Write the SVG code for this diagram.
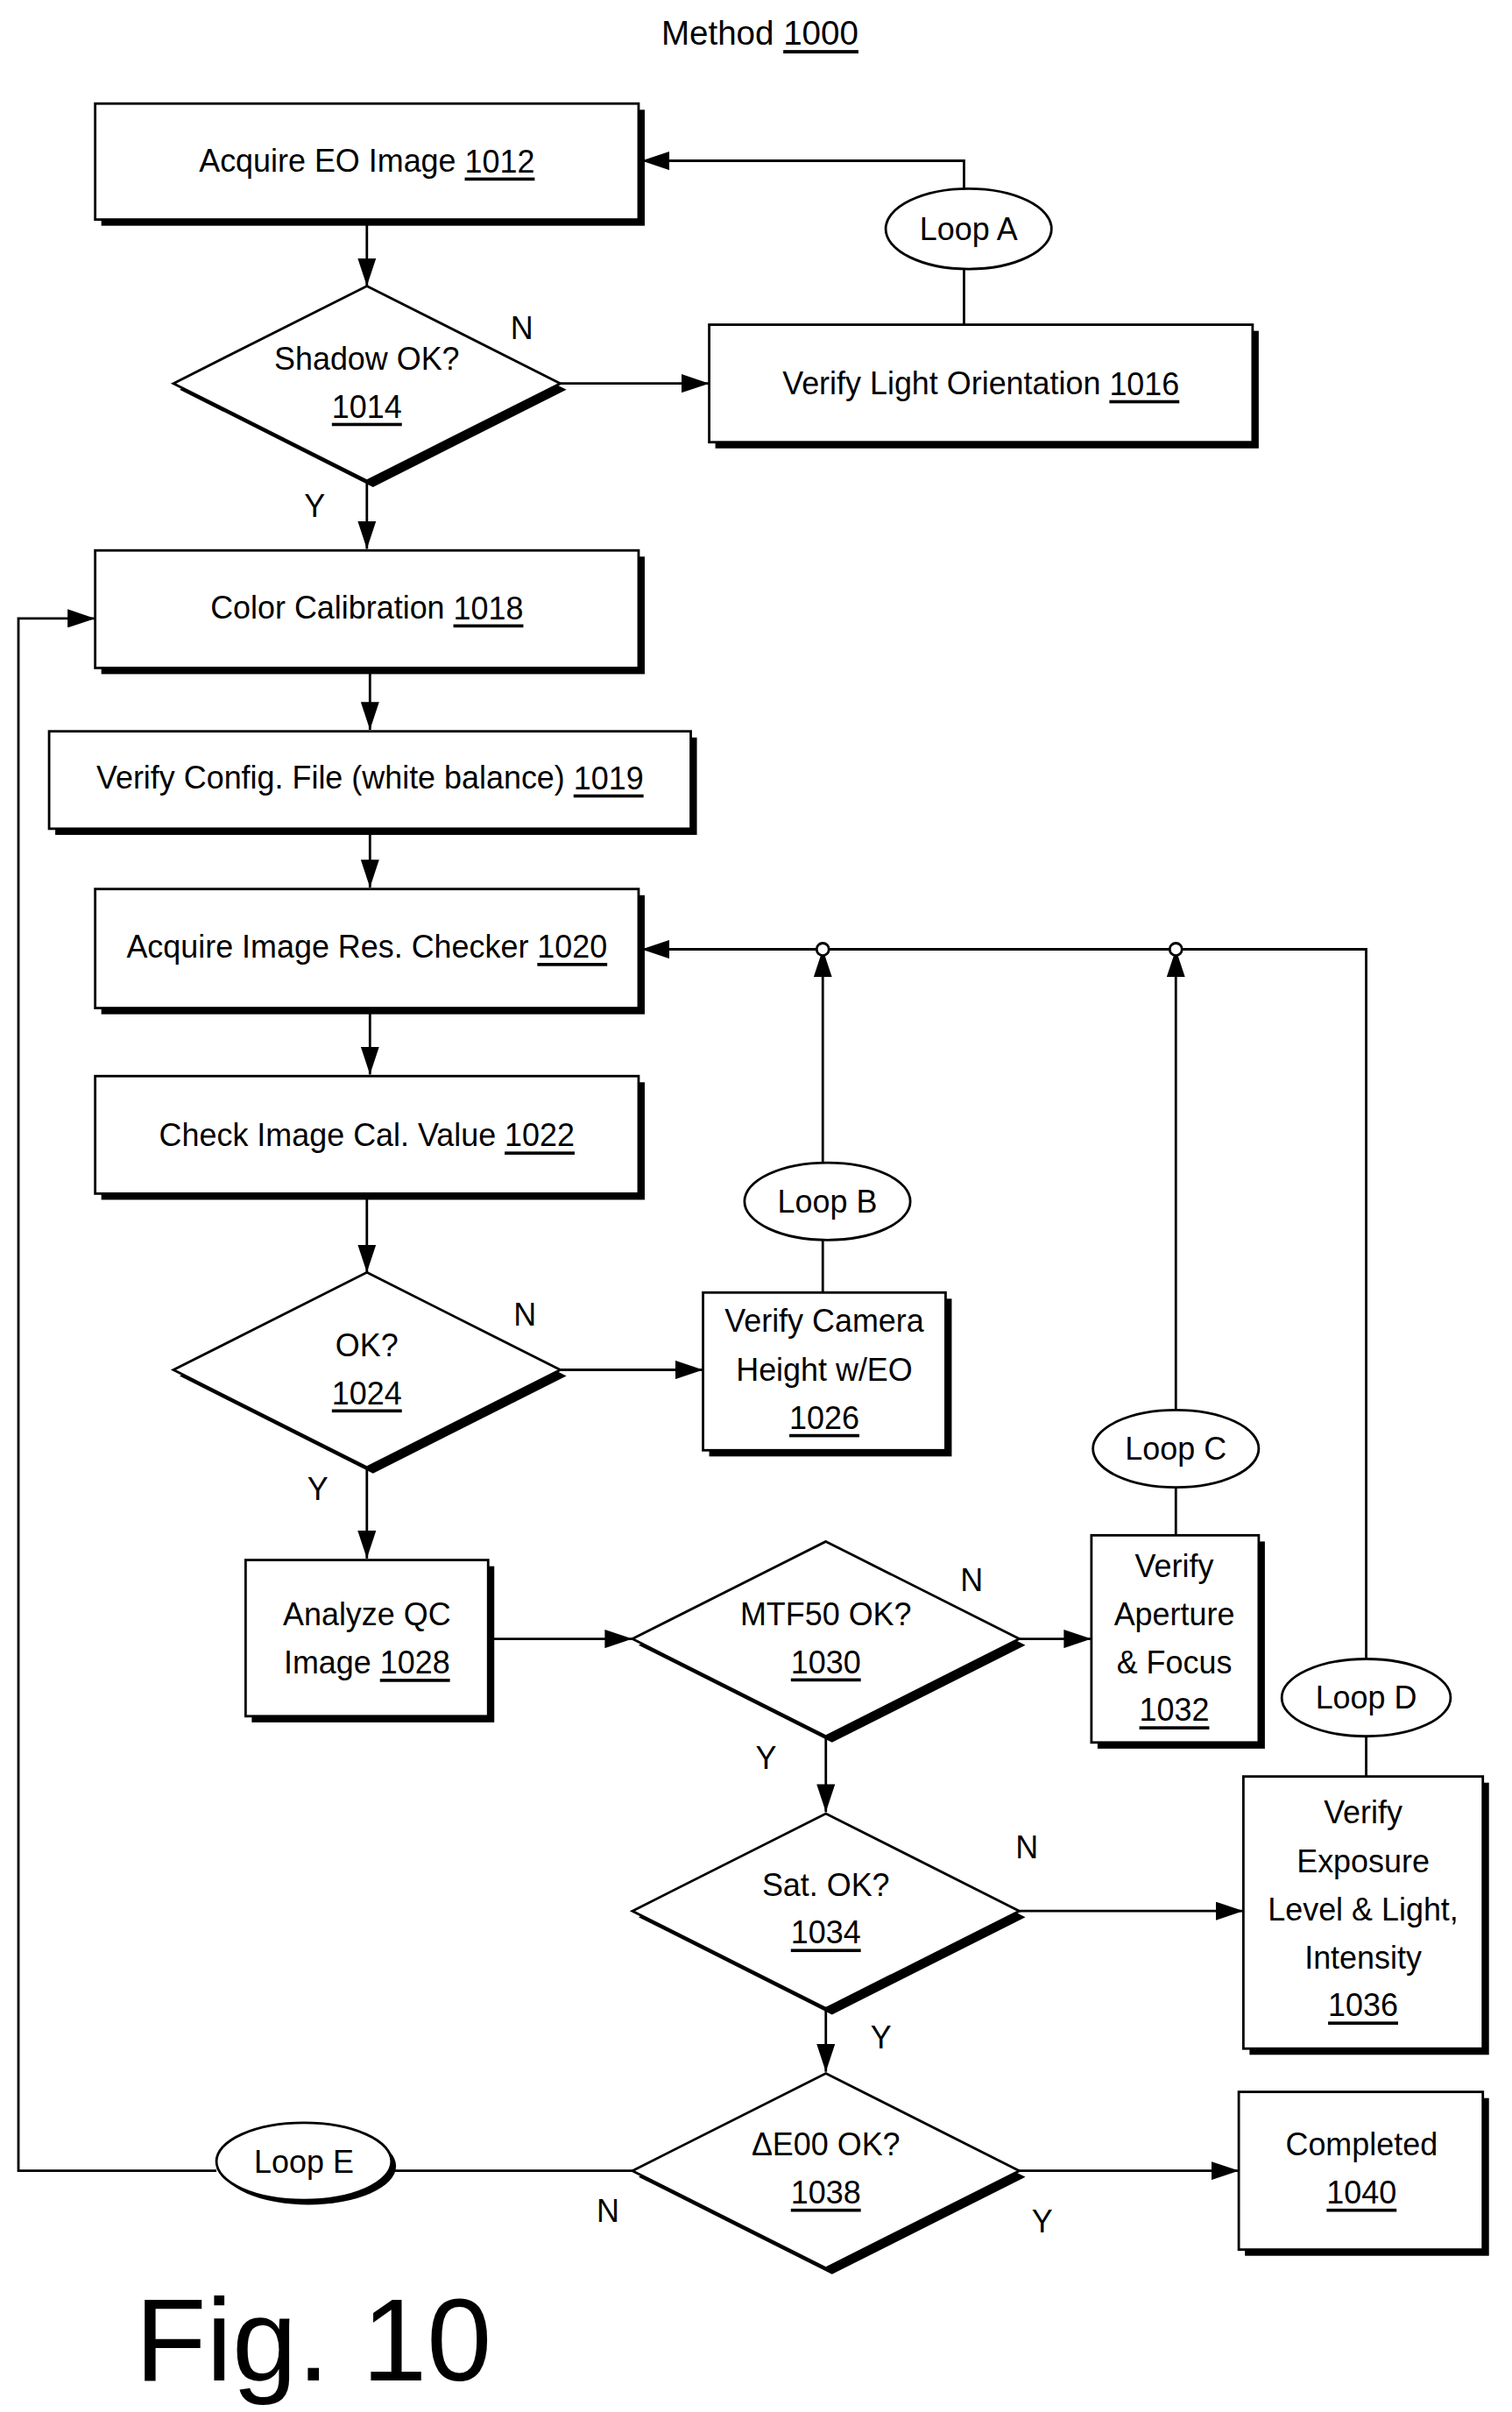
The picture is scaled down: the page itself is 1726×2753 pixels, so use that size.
<svg xmlns="http://www.w3.org/2000/svg" width="1726" height="2753" viewBox="0 0 1726 2753">
<style>
text{font-family:"Liberation Sans Narrow","Liberation Sans",Arial,sans-serif;font-size:20.5px;fill:#000;text-anchor:middle;dominant-baseline:central}
.u{text-decoration:underline}
.b{fill:#fff;stroke:#000;stroke-width:1.6}
.s{fill:#000}
.c{fill:none;stroke:#000;stroke-width:1.6}
</style>
<defs>
<marker id="a" viewBox="0 0 18 12" refX="18" refY="6" markerWidth="18" markerHeight="12" markerUnits="userSpaceOnUse" orient="auto"><path d="M0,0L18,6L0,12z" fill="#000"/></marker>
</defs>
<rect width="1726" height="2753" fill="#fff"/>
<g transform="scale(1.7523,1.7647)">
<text x="495" y="21" style="font-size:22px">Method <tspan class="u">1000</tspan></text>
<g id="connectors">
<path class="c" d="M239,142V185" marker-end="url(#a)"/>
<path class="c" d="M365,248H462" marker-end="url(#a)"/>
<path class="c" d="M628,210V174M628,122V104H418" marker-end="url(#a)"/>
<path class="c" d="M239,311V355" marker-end="url(#a)"/>
<path class="c" d="M241,432V472" marker-end="url(#a)"/>
<path class="c" d="M241,536V574" marker-end="url(#a)"/>
<path class="c" d="M241,652V695" marker-end="url(#a)"/>
<path class="c" d="M239,772V823" marker-end="url(#a)"/>
<path class="c" d="M365,886H458" marker-end="url(#a)"/>
<path class="c" d="M536,836V802M536,752V614" marker-end="url(#a)"/>
<path class="c" d="M766,993V962M766,912V614" marker-end="url(#a)"/>
<path class="c" d="M890,1073V614H418" marker-end="url(#a)"/>
<circle cx="536" cy="614" r="4" fill="#fff" stroke="#000" stroke-width="1.6"/>
<circle cx="766" cy="614" r="4" fill="#fff" stroke="#000" stroke-width="1.6"/>
<path class="c" d="M239,949V1008" marker-end="url(#a)"/>
<path class="c" d="M318,1060H412" marker-end="url(#a)"/>
<path class="c" d="M664,1060H711" marker-end="url(#a)"/>
<path class="c" d="M538,1123V1172" marker-end="url(#a)"/>
<path class="c" d="M664,1236H810" marker-end="url(#a)"/>
<path class="c" d="M890,1123V1149"/>
<path class="c" d="M538,1299V1340" marker-end="url(#a)"/>
<path class="c" d="M664,1404H807" marker-end="url(#a)"/>
<path class="c" d="M412,1404H255M141,1404H12V400H62" marker-end="url(#a)"/>
<text x="340" y="212">N</text><text x="205" y="327">Y</text>
<text x="342" y="850">N</text><text x="207" y="963">Y</text>
<text x="633" y="1022">N</text><text x="499" y="1137">Y</text>
<text x="669" y="1195">N</text><text x="574" y="1318">Y</text>
<text x="396" y="1430">N</text><text x="679" y="1437">Y</text>
</g>
<g id="n1012"><rect class="s" x="66" y="71" width="354" height="75"/><rect class="b" x="62" y="67" width="354" height="75"/><text x="239" y="104">Acquire EO Image <tspan class="u">1012</tspan></text></g>
<g id="n1014"><polygon class="s" points="243,189 369,252 243,315 117,252"/><polygon class="b" points="239,185 365,248 239,311 113,248"/><text x="239" y="232">Shadow OK?</text><text x="239" y="263" class="u">1014</text></g>
<g id="n1016"><rect class="s" x="466" y="214" width="354" height="76"/><rect class="b" x="462" y="210" width="354" height="76"/><text x="639" y="248">Verify Light Orientation <tspan class="u">1016</tspan></text></g>
<g id="loopA"><ellipse class="b" cx="631" cy="148" rx="54" ry="26"/><text x="631" y="148">Loop A</text></g>
<g id="n1018"><rect class="s" x="66" y="360" width="354" height="76"/><rect class="b" x="62" y="356" width="354" height="76"/><text x="239" y="393">Color Calibration <tspan class="u">1018</tspan></text></g>
<g id="n1019"><rect class="s" x="36" y="477" width="418" height="63"/><rect class="b" x="32" y="473" width="418" height="63"/><text x="241" y="503">Verify Config. File (white balance) <tspan class="u">1019</tspan></text></g>
<g id="n1020"><rect class="s" x="66" y="579" width="354" height="77"/><rect class="b" x="62" y="575" width="354" height="77"/><text x="239" y="612">Acquire Image Res. Checker <tspan class="u">1020</tspan></text></g>
<g id="n1022"><rect class="s" x="66" y="700" width="354" height="76"/><rect class="b" x="62" y="696" width="354" height="76"/><text x="239" y="734">Check Image Cal. Value <tspan class="u">1022</tspan></text></g>
<g id="n1024"><polygon class="s" points="243,827 369,890 243,953 117,890"/><polygon class="b" points="239,823 365,886 239,949 113,886"/><text x="239" y="870">OK?</text><text x="239" y="901" class="u">1024</text></g>
<g id="n1026"><rect class="s" x="462" y="840" width="158" height="102"/><rect class="b" x="458" y="836" width="158" height="102"/><text x="537" y="854">Verify Camera</text><text x="537" y="886">Height w/EO</text><text x="537" y="917" class="u">1026</text></g>
<g id="loopB"><ellipse class="b" cx="539" cy="777" rx="54" ry="25"/><text x="539" y="777">Loop B</text></g>
<g id="loopC"><ellipse class="b" cx="766" cy="937" rx="54" ry="25"/><text x="766" y="937">Loop C</text></g>
<g id="n1028"><rect class="s" x="164" y="1013" width="158" height="101"/><rect class="b" x="160" y="1009" width="158" height="101"/><text x="239" y="1044">Analyze QC</text><text x="239" y="1075">Image <tspan class="u">1028</tspan></text></g>
<g id="n1030"><polygon class="s" points="542,1001 668,1064 542,1127 416,1064"/><polygon class="b" points="538,997 664,1060 538,1123 412,1060"/><text x="538" y="1044">MTF50 OK?</text><text x="538" y="1075" class="u">1030</text></g>
<g id="n1032"><rect class="s" x="715" y="997" width="109" height="134"/><rect class="b" x="711" y="993" width="109" height="134"/><text x="765" y="1013">Verify</text><text x="765" y="1044">Aperture</text><text x="765" y="1075">&amp; Focus</text><text x="765" y="1106" class="u">1032</text></g>
<g id="loopD"><ellipse class="b" cx="890" cy="1098" rx="55" ry="25"/><text x="890" y="1098">Loop D</text></g>
<g id="n1034"><polygon class="s" points="542,1177 668,1240 542,1303 416,1240"/><polygon class="b" points="538,1173 664,1236 538,1299 412,1236"/><text x="538" y="1219">Sat. OK?</text><text x="538" y="1250" class="u">1034</text></g>
<g id="n1036"><rect class="s" x="814" y="1153" width="156" height="176"/><rect class="b" x="810" y="1149" width="156" height="176"/><text x="888" y="1172">Verify</text><text x="888" y="1204">Exposure</text><text x="888" y="1235">Level &amp; Light,</text><text x="888" y="1266">Intensity</text><text x="888" y="1297" class="u">1036</text></g>
<g id="n1038"><polygon class="s" points="542,1345 668,1408 542,1471 416,1408"/><polygon class="b" points="538,1341 664,1404 538,1467 412,1404"/><text x="538" y="1387">ΔE00 OK?</text><text x="538" y="1418" class="u">1038</text></g>
<g id="n1040"><rect class="s" x="811" y="1357" width="159" height="102"/><rect class="b" x="807" y="1353" width="159" height="102"/><text x="887" y="1387">Completed</text><text x="887" y="1418" class="u">1040</text></g>
<g id="loopE"><ellipse class="s" cx="201" cy="1401" rx="57" ry="25"/><ellipse class="b" cx="198" cy="1398" rx="57" ry="25"/><text x="198" y="1398">Loop E</text></g>
<text x="88" y="1513" style="font-size:76px;text-anchor:start;font-family:'Liberation Sans',Arial,sans-serif">Fig. 10</text>
</g>
</svg>
